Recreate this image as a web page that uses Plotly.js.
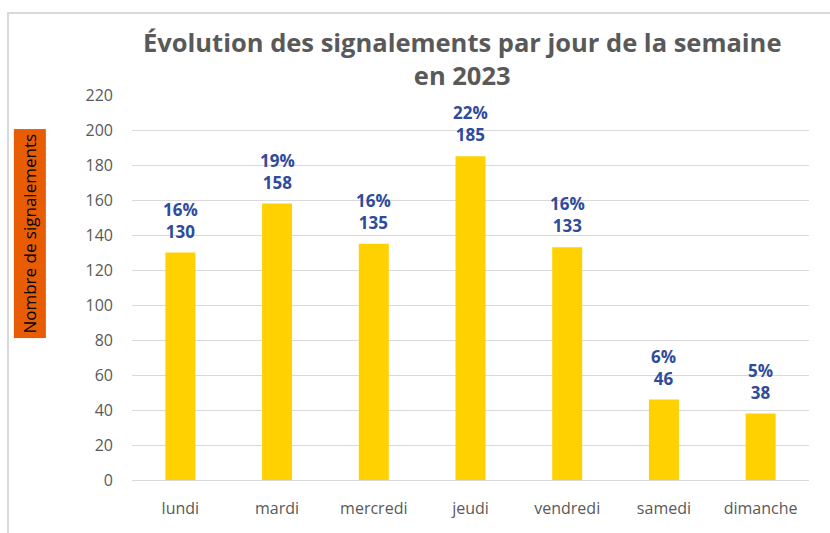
<!DOCTYPE html>
<html>
<head>
<meta charset="utf-8">
<script src="https://cdn.plot.ly/plotly-3.0.1.min.js"></script>
<style>
  html, body { margin: 0; padding: 0; background: #fff; }
  #wrap { position: relative; width: 830px; height: 533px; overflow: hidden; }
  #chart { width: 830px; height: 533px; }
  #cadre {
    position: absolute; left: 7px; top: 12px; width: 840px; height: 540px;
    border-left: 2px solid #D9D9D9; border-top: 2px solid #D9D9D9;
    pointer-events: none;
  }
</style>
</head>
<body>
<div id="wrap">
  <div id="chart"></div>
  <div id="cadre"></div>
</div>
<script>
var jours = ['lundi', 'mardi', 'mercredi', 'jeudi', 'vendredi', 'samedi', 'dimanche'];
var signalements = [130, 158, 135, 185, 133, 46, 38];
var parts = ['16%', '19%', '16%', '22%', '16%', '6%', '5%'];

var police = '"Open Sans", "Noto Sans", sans-serif';

var labels = jours.map(function(j, i) {
  return {
    x: j,
    y: signalements[i],
    xref: 'x',
    yref: 'y',
    text: parts[i] + '<br>' + signalements[i],
    showarrow: false,
    yanchor: 'bottom',
    yshift: 8,
    font: {family: police, size: 17, color: '#2F4B9B', weight: 'bold'}
  };
});

// titre principal
labels.push({
  text: 'Évolution des signalements par jour de la semaine<br>en 2023',
  xref: 'paper',
  yref: 'paper',
  x: 0.4875,
  y: 1.0948,
  yanchor: 'middle',
  showarrow: false,
  font: {family: police, size: 25.5, color: '#595959', weight: 'bold'}
});

// titre de l'axe y avec fond orange
labels.push({
  text: 'Nombre de signalements',
  xref: 'paper',
  yref: 'paper',
  x: -0.1507,
  y: 0.640,
  xanchor: 'center',
  yanchor: 'middle',
  textangle: -90,
  showarrow: false,
  bgcolor: '#E85D04',
  borderpad: 4,
  font: {family: police, size: 17, color: '#000000'}
});

var data = [{
  x: jours,
  y: signalements,
  type: 'bar',
  marker: {color: '#FFD100'},
  hoverinfo: 'skip'
}];

var layout = {
  width: 830,
  height: 533,
  margin: {l: 132, r: 21, t: 95, b: 53},
  paper_bgcolor: '#ffffff',
  plot_bgcolor: '#ffffff',
  bargap: 0.69,
  showlegend: false,
  font: {family: police, color: '#595959'},
  xaxis: {
    type: 'category',
    showgrid: false,
    showline: true,
    linecolor: '#D9D9D9',
    linewidth: 1,
    ticks: '',
    ticklabelstandoff: 14,
    tickfont: {family: police, size: 16, color: '#595959'}
  },
  yaxis: {
    range: [0, 220],
    dtick: 20,
    showgrid: true,
    gridcolor: '#D9D9D9',
    gridwidth: 1,
    zeroline: false,
    showline: false,
    ticks: '',
    ticklabelstandoff: 18,
    tickfont: {family: police, size: 16, color: '#595959'}
  },
  annotations: labels
};

Plotly.newPlot('chart', data, layout, {displayModeBar: false, staticPlot: true});
</script>
</body>
</html>
